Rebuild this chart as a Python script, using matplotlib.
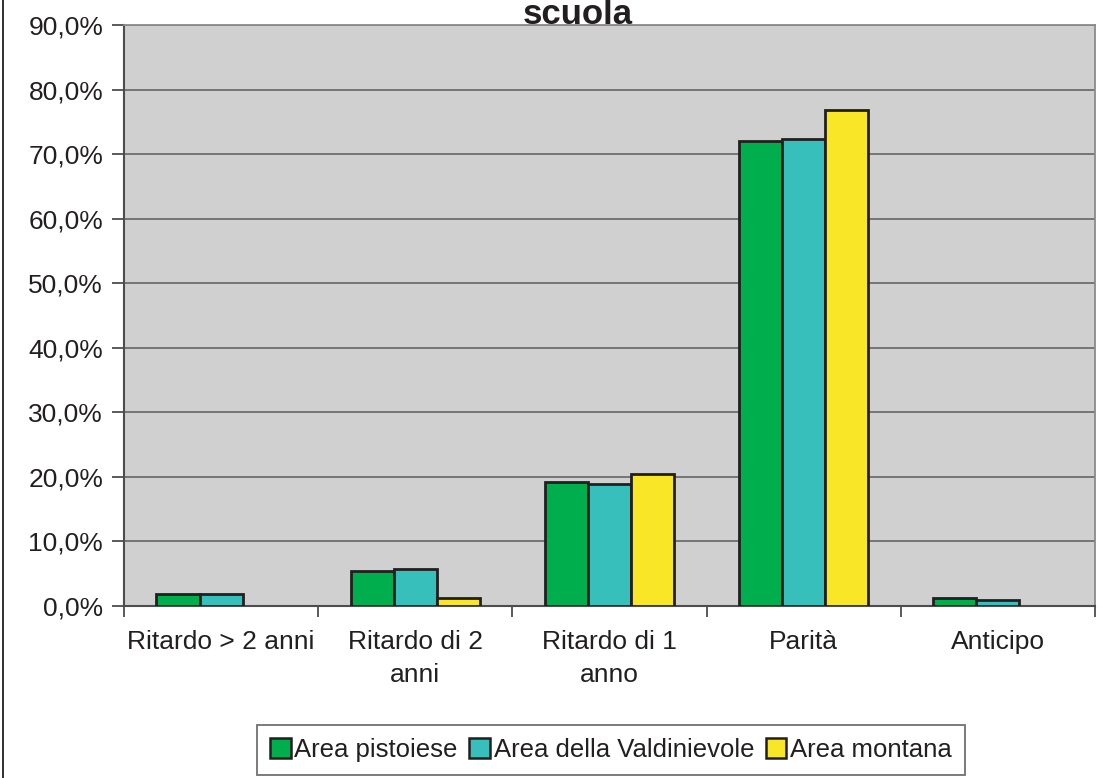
import matplotlib
matplotlib.use("Agg")
from matplotlib import pyplot as plt
from matplotlib.patches import Patch
from matplotlib.lines import Line2D
import numpy as np

plt.rcParams['font.family'] = ['Liberation Sans', 'DejaVu Sans']

categorie = ["Ritardo > 2 anni", "Ritardo di 2\nanni", "Ritardo di 1\nanno", "Parità", "Anticipo"]
serie = ["Area pistoiese", "Area della Valdinievole", "Area montana"]
pistoiese = [1.9, 5.4, 19.2, 72.1, 1.2]
valdinievole = [1.9, 5.7, 18.9, 72.4, 0.9]
montana = [0.0, 1.2, 20.4, 76.8, 0.0]
colori = ["#00AE4D", "#37BFBC", "#F9E627"]
y_ticks = [0, 10, 20, 30, 40, 50, 60, 70, 80, 90]

W, H = 1113, 778
fig = plt.figure(figsize=(W / 100, H / 100), dpi=100)
ax = fig.add_axes([124 / W, (H - 606) / H, 971 / W, 581 / H])
ax.set_facecolor("#D0D0D0")

x = np.arange(len(categorie))
w = 0.222
for k, (vals, col, nome) in enumerate(zip([pistoiese, valdinievole, montana], colori, serie)):
    lw = [2 if v > 0 else 0 for v in vals]
    ax.bar(x + (k - 1) * w, vals, w, color=col, edgecolor="#231F20", linewidth=lw, label=nome, zorder=3)

ax.set_xlim(-0.5, len(categorie) - 0.5)
ax.set_ylim(0, 90)
ax.set_yticks(y_ticks)
ax.set_yticklabels([("%.1f%%" % v).replace(".", ",") for v in y_ticks], fontsize=19, color="#231F20")
ax.yaxis.grid(True, color="#6D6E70", linewidth=1.3, zorder=1)
ax.set_axisbelow(True)

ax.set_xticks(x)
ax.set_xticklabels(categorie, fontsize=19, color="#231F20", linespacing=1.5)
ax.set_xticks(np.arange(-0.5, len(categorie)), minor=True)
ax.tick_params(axis="x", which="major", length=0, pad=17)
ax.tick_params(axis="x", which="minor", length=8, width=1.3, color="#4D4D4F")
ax.tick_params(axis="y", length=9, width=1.3, color="#4D4D4F", pad=6)

for s in ["top", "right"]:
    ax.spines[s].set_color("#8A8A8A")
    ax.spines[s].set_linewidth(1.3)
for s in ["left", "bottom"]:
    ax.spines[s].set_color("#4D4D4F")
    ax.spines[s].set_linewidth(1.5)

# titolo (nell'originale la parte alta è tagliata)
fig.text(578 / W, 1 - 24 / H, "scuola", ha="center", va="baseline", fontsize=25, fontweight="bold", color="#231F20")

# bordo sinistro dell'area grafico
fig.add_artist(Line2D([2.5 / W, 2.5 / W], [0, 1], color="#231F20", linewidth=1.3))

handles = [Patch(facecolor=c, edgecolor="#231F20", linewidth=1.8) for c in colori]
leg = fig.legend(handles, serie, loc="center", bbox_to_anchor=(611 / W, 1 - 750 / H),
                 ncol=3, fontsize=18.5, frameon=True, fancybox=False, handlelength=0.8,
                 handleheight=0.8, handletextpad=0.15, columnspacing=0.45, borderpad=0.5,
                 borderaxespad=0)
leg.get_frame().set_edgecolor("#4D4D4F")
leg.get_frame().set_linewidth(1.3)
for t in leg.get_texts():
    t.set_color("#231F20")

fig.savefig("out.png", dpi=100)
